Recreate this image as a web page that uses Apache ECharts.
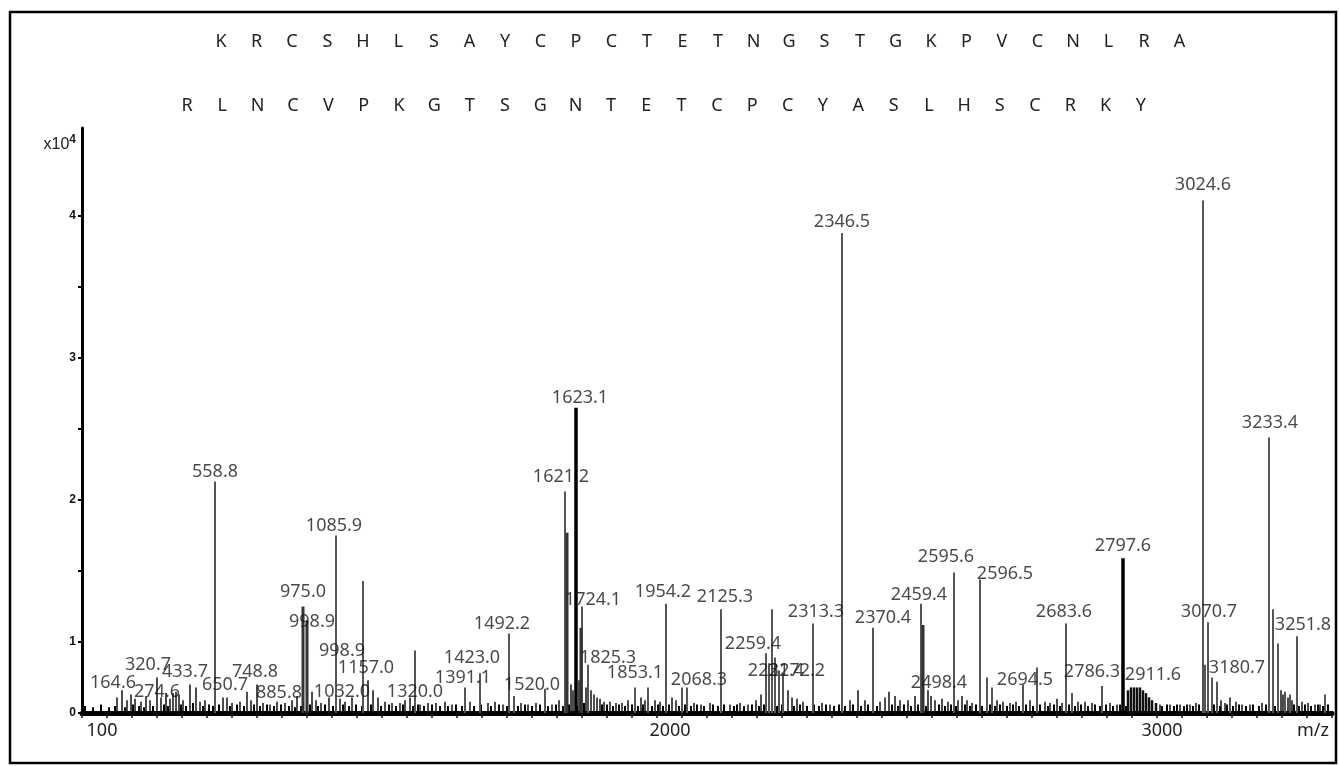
<!DOCTYPE html>
<html><head><meta charset="utf-8">
<script src="https://cdn.jsdelivr.net/npm/echarts@6/dist/echarts.min.js"></script>
<style>html,body{margin:0;padding:0;background:#fff}#c{width:1339px;height:766px}</style>
</head><body><div id="c"></div>
<script>
// Sequences shown above the spectrum
const seqTop = ['K','R','C','S','H','L','S','A','Y','C','P','C','T','E','T','N','G','S','T','G','K','P','V','C','N','L','R','A'];
const seqBottom = ['R','L','N','C','V','P','K','G','T','S','G','N','T','E','T','C','P','C','Y','A','S','L','H','S','C','R','K','Y'];

// x axis: scan position (as drawn), labelled ticks
const xTickPos = [20, 588, 1080, 1231];
const xTickText = ['100', '2000', '3000', 'm/z'];
// y axis (x10^4): labelled ticks on the drawn scale
const yLabelVals = [0.5, 1, 2, 3, 4, 4.5];
const yLabelText = ['0', '1', '2', '3', '4', 'x10'];
const yTickVals = [0.5, 1, 1.5, 2, 2.5, 3, 3.5, 4];

// peaks: [position, intensity]
const strongPeaks = [[494, 2.65], [1041, 1.59]];
const thickPeaks = [[221, 1.25], [225, 1.15], [485, 1.77], [499, 1.10], [841, 1.12]];
const grayPeaks = [
  [133, 2.13], [254, 1.75], [281, 1.43], [333, 0.94], [383, 0.68], [398, 0.78], [427, 1.06], [432, 0.62],
  [463, 0.67], [483, 2.06], [500, 1.25], [506, 0.84], [553, 0.68], [566, 0.68], [584, 1.27], [600, 0.68],
  [605, 0.68], [639, 1.23], [684, 0.92], [687, 0.85], [690, 1.23], [693, 0.89], [697, 0.80], [701, 0.78],
  [731, 1.13], [760, 3.88], [791, 1.10], [839, 1.27], [872, 1.49], [898, 1.44], [905, 0.75], [910, 0.68],
  [941, 0.70], [955, 0.82], [984, 1.13], [990, 0.64], [1020, 0.69], [1121, 4.11], [1126, 1.14], [1123, 0.84],
  [1130, 0.75], [1135, 0.72], [1148, 0.61], [1187, 2.44], [1191, 1.23], [1196, 0.99], [1203, 0.65], [1208, 0.63],
  [1215, 1.04], [1243, 0.63]
];
const humpPeaks = [[1046, 0.66], [1049, 0.68], [1052, 0.68], [1055, 0.68], [1058, 0.68], [1061, 0.66],
  [1064, 0.64], [1067, 0.61], [1070, 0.59], [1074, 0.57]];
const noisePeaks = [
  [35,.61],[40,.66],[45,.59],[49,.63],[53,.60],[59,.58],[64,.62],[68,.59],[75,.75],[79,.61],[84,.64],[88,.60],
  [91,.64],[94,.65],[97,.63],[101,.59],[108,.70],[114,.68],[118,.58],[123,.59],[141,.61],[145,.61],[150,.57],
  [158,.58],[165,.65],[169,.59],[175,.70],[181,.57],[188,.56],[195,.58],[203,.57],[210,.59],[215,.62],[230,.65],
  [234,.59],[239,.57],[247,.61],[258,.60],[263,.58],[270,.61],[286,.73],[291,.66],[296,.61],[303,.58],[310,.57],
  [318,.57],[323,.59],[328,.61],[338,.56],[346,.57],[354,.57],[363,.58],[370,.56],[388,.58],[406,.57],[413,.58],
  [421,.56],[439,.57],[446,.56],[454,.57],[470,.56],[477,.59],[489,.70],[491,.66],[497,.73],[504,.68],[509,.66],
  [512,.63],[515,.61],[518,.60],[522,.58],[528,.58],[534,.57],[540,.57],[546,.59],[559,.61],[563,.59],[573,.59],
  [578,.58],[590,.61],[594,.59],[612,.57],[619,.56],[628,.57],[648,.56],[658,.57],[666,.56],[674,.59],[679,.63],
  [706,.66],[710,.61],[715,.60],[721,.58],[740,.57],[748,.56],[768,.59],[776,.66],[783,.59],[798,.58],[803,.61],
  [807,.65],[813,.62],[818,.59],[826,.59],[833,.62],[846,.66],[849,.62],[853,.59],[860,.60],[866,.58],[876,.59],
  [880,.62],[885,.59],[890,.57],[915,.59],[921,.58],[928,.57],[934,.58],[948,.59],[963,.58],[968,.57],[975,.60],
  [980,.57],[996,.58],[1003,.58],[1010,.57],[1028,.57],[1035,.56],[1078,.56],[1088,.56],[1098,.56],[1108,.56],
  [1114,.57],[1139,.59],[1143,.57],[1154,.58],[1160,.56],[1168,.56],[1180,.57],[1199,.66],[1201,.63],[1206,.61],
  [1210,.59],[1220,.58],[1226,.57],[1233,.56],[1238,.56]
];
const fuzzPeaks = [
  [3,.55],[11,.54],[19,.56],[27,.54],[33,.55],[43,.54],[51,.56],[57,.55],[62,.54],[71,.55],[82,.56],[86,.55],
  [99,.56],[104,.55],[111,.57],[121,.55],[127,.56],[131,.55],[137,.56],[148,.55],[155,.56],[162,.55],[172,.56],
  [178,.55],[185,.56],[192,.55],[199,.56],[207,.55],[213,.54],[219,.55],[228,.56],[236,.55],[243,.56],[251,.55],
  [261,.56],[267,.55],[274,.56],[280,.55],[289,.56],[299,.55],[307,.56],[314,.55],[321,.56],[331,.55],[336,.56],
  [342,.55],[350,.56],[358,.55],[366,.55],[374,.56],[380,.55],[392,.55],[399,.56],[409,.55],[417,.56],[425,.55],
  [436,.55],[443,.56],[450,.55],[458,.56],[466,.55],[474,.56],[481,.55],[487,.56],[495,.55],[502,.57],[520,.56],
  [525,.56],[531,.55],[537,.56],[543,.55],[550,.56],[556,.55],[561,.56],[570,.55],[576,.56],[581,.55],[587,.56],
  [597,.55],[603,.56],[609,.55],[615,.56],[622,.55],[631,.56],[636,.55],[642,.56],[652,.55],[655,.56],[662,.55],
  [670,.56],[677,.55],[682,.56],[695,.55],[700,.56],[712,.55],[718,.56],[725,.55],[732,.56],[737,.55],[744,.56],
  [752,.55],[757,.56],[763,.55],[771,.56],[779,.55],[786,.56],[795,.55],[810,.56],[816,.55],[822,.56],[829,.55],
  [836,.56],[844,.55],[857,.56],[863,.55],[869,.56],[874,.55],[883,.56],[888,.55],[894,.56],[900,.55],[908,.56],
  [913,.55],[918,.56],[925,.55],[931,.56],[937,.55],[944,.56],[951,.55],[958,.56],[966,.55],[972,.56],[978,.55],
  [987,.56],[993,.55],[999,.56],[1006,.55],[1013,.56],[1018,.55],[1024,.56],[1031,.55],[1038,.56],[1044,.55],
  [1080,.55],[1085,.56],[1092,.55],[1095,.56],[1102,.55],[1105,.56],[1111,.55],[1117,.56],[1132,.56],[1138,.55],
  [1145,.56],[1151,.55],[1157,.56],[1164,.55],[1171,.56],[1177,.55],[1184,.56],[1193,.55],[1212,.56],[1217,.55],
  [1223,.56],[1229,.55],[1236,.56],[1241,.55],[1246,.56]
];

// peak annotations
const labelText = ['164.6','320.7','274.6','433.7','650.7','748.8','885.8','558.8','975.0','998.9','1085.9','998.9',
  '1157.0','1032.0','1320.0','1423.0','1391.1','1492.2','1520.0','1621.2','1623.1','1724.1','1825.3','1853.1',
  '1954.2','2068.3','2125.3','2259.4','2231.4','2272.2','2313.3','2346.5','2370.4','2459.4','2595.6','2596.5',
  '2498.4','2694.5','2683.6','2786.3','2797.6','2911.6','3024.6','3070.7','3180.7','3233.4','3251.8'];
const labelAt = [31, 66, 75, 103, 143, 173, 197, 133, 221, 230, 252, 260,
  284, 260, 333, 390, 381, 420, 450, 479, 498, 511, 526, 553,
  581, 617, 643, 671, 694, 715, 734, 760, 801, 837, 864, 923,
  857, 943, 982, 1010, 1041, 1071, 1121, 1127, 1155, 1188, 1221];
const labelHeight = [0.71, 0.84, 0.65, 0.79, 0.70, 0.79, 0.64, 2.20, 1.35, 1.14, 1.82, 0.94,
  0.82, 0.65, 0.65, 0.89, 0.75, 1.13, 0.70, 2.16, 2.72, 1.30, 0.89, 0.78,
  1.35, 0.73, 1.32, 0.99, 0.80, 0.80, 1.21, 3.96, 1.17, 1.33, 1.60, 1.48,
  0.71, 0.73, 1.21, 0.79, 1.68, 0.77, 4.22, 1.21, 0.82, 2.54, 1.12];

const BASE = 0.5;
const FONT = '"Noto Sans", "Open Sans", sans-serif';

function stickSeries(name, data, color, width) {
  return {
    type: 'custom', name: name, data: data, silent: true, clip: true,
    renderItem: function (params, api) {
      const p0 = api.coord([api.value(0), BASE]);
      const p1 = api.coord([api.value(0), api.value(1)]);
      return { type: 'line', shape: { x1: p0[0], y1: p0[1], x2: p1[0], y2: p1[1] },
        style: { stroke: color, lineWidth: width } };
    }
  };
}

const chart = echarts.init(document.getElementById('c'), null, { renderer: 'canvas' });

const graphics = [{
  type: 'rect', shape: { x: 10, y: 12, width: 1326, height: 751 },
  style: { fill: null, stroke: '#000', lineWidth: 2.5 }, silent: true
}];
seqTop.forEach(function (ch, i) {
  graphics.push({ type: 'text', x: 221 + i * 35.5, y: 42, silent: true,
    style: { text: ch, font: '18px ' + FONT, fill: '#222', align: 'center', verticalAlign: 'middle' } });
});
seqBottom.forEach(function (ch, i) {
  graphics.push({ type: 'text', x: 187 + i * 35.33, y: 106, silent: true,
    style: { text: ch, font: '18px ' + FONT, fill: '#222', align: 'center', verticalAlign: 'middle' } });
});

chart.setOption({
  animation: false,
  backgroundColor: '#fff',
  grid: { left: 82, right: 7, top: 128, bottom: 53, containLabel: false },
  xAxis: {
    type: 'value', min: 0, max: 1250, interval: 25,
    axisLine: { show: true, lineStyle: { color: '#000', width: 5 } },
    axisTick: { show: true, length: 5, lineStyle: { color: '#111', width: 1.5 } },
    splitLine: { show: false },
    axisLabel: {
      customValues: xTickPos, margin: 9,
      fontFamily: FONT, fontSize: 18, color: '#222',
      formatter: function (v) { const k = xTickPos.indexOf(v); return k >= 0 ? xTickText[k] : ''; }
    }
  },
  yAxis: {
    type: 'value', min: 0.5, max: 4.62, interval: 0.5,
    axisLine: { show: true, lineStyle: { color: '#000', width: 3 } },
    axisTick: { show: true, customValues: yTickVals, length: 4, lineStyle: { color: '#000', width: 2 } },
    splitLine: { show: false },
    axisLabel: {
      customValues: yLabelVals, margin: 6,
      fontFamily: '"Liberation Sans", Arial, sans-serif', fontWeight: 'bold', fontSize: 12, color: '#111',
      formatter: function (v) {
        const k = yLabelVals.indexOf(v);
        if (k < 0) return '';
        if (v === 4.5) return '{x|' + yLabelText[k] + '}{s|4}';
        return yLabelText[k];
      },
      rich: {
        x: { fontFamily: '"Liberation Sans", Arial, sans-serif', fontSize: 16, color: '#222', fontWeight: 'normal' },
        s: { fontFamily: '"Liberation Sans", Arial, sans-serif', fontSize: 12, color: '#222', verticalAlign: 'bottom', padding: [0, 0, 10, 0] }
      }
    }
  },
  graphic: graphics,
  series: [
    stickSeries('fuzz', fuzzPeaks, '#000', 2),
    stickSeries('noise', noisePeaks, '#111', 1.5),
    stickSeries('hump', humpPeaks, '#111', 2.5),
    stickSeries('peaks', grayPeaks, '#555', 2),
    stickSeries('thick', thickPeaks, '#333', 3),
    stickSeries('strong', strongPeaks, '#000', 3.5),
    {
      type: 'scatter', name: 'labels', silent: true, symbolSize: 0,
      data: labelAt.map(function (p, i) { return [p, labelHeight[i]]; }),
      label: {
        show: true, position: 'inside', fontFamily: FONT, fontSize: 18, color: '#1a1a1a',
        formatter: function (p) { return labelText[p.dataIndex]; }
      },
      z: 5
    }
  ]
});
</script></body></html>
